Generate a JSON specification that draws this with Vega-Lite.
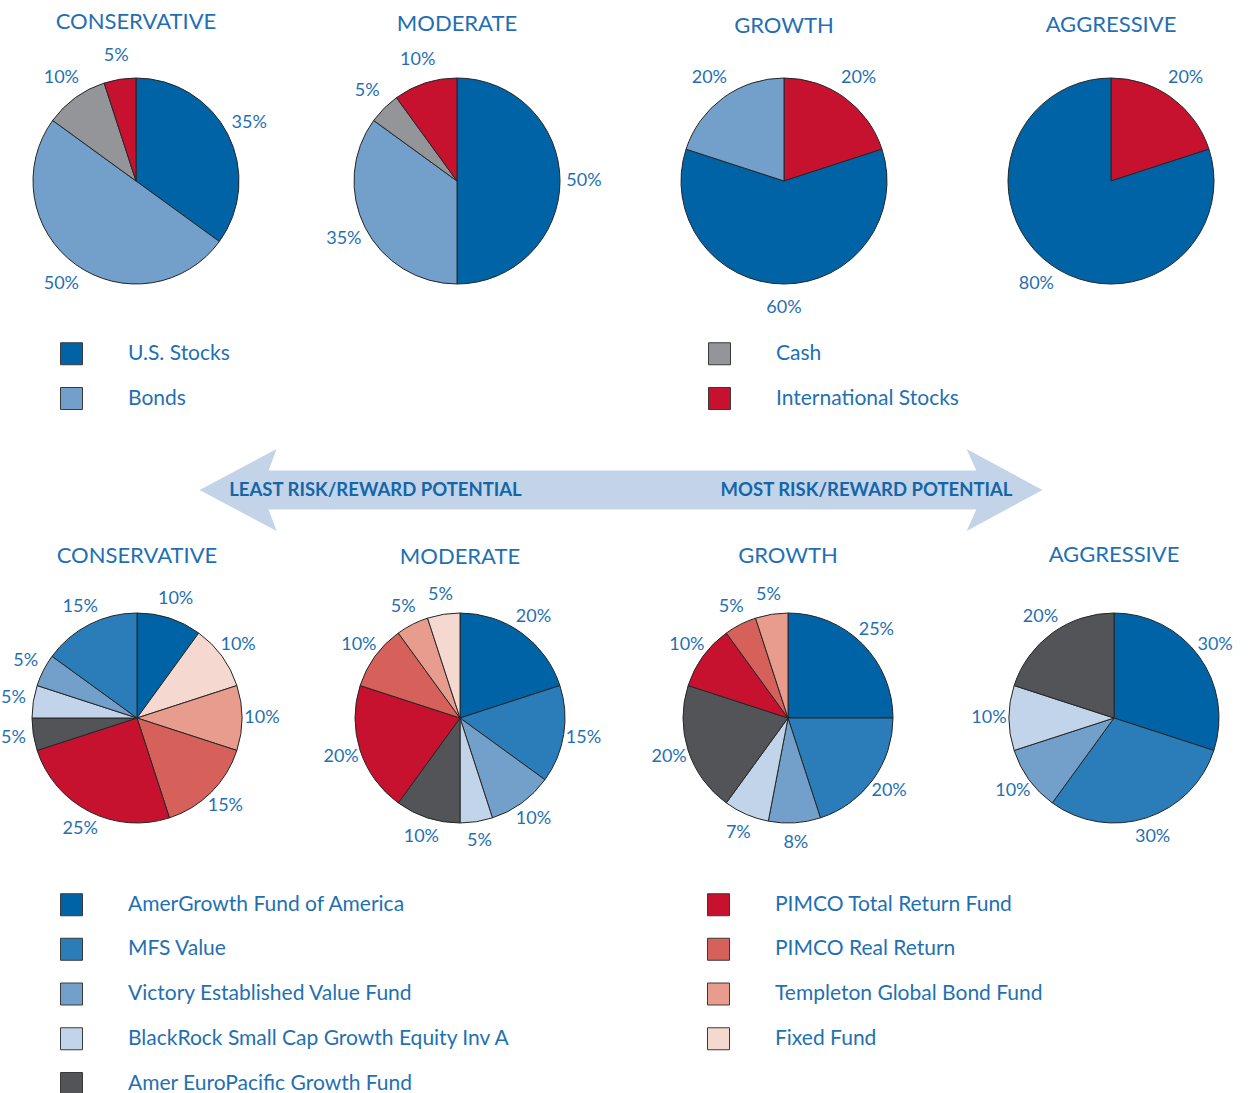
{
  "$schema": "https://vega.github.io/schema/vega-lite/v6.json",
  "padding": {"left": 1, "top": 11, "right": 0, "bottom": 0},
  "background": "white",
  "config": {
    "view": {"stroke": null},
    "font": "Lato",
    "title": {"font": "Lato", "fontSize": 22, "fontWeight": "normal", "color": "#1f70b3", "baseline": "alphabetic", "anchor": "middle"}
  },
  "datasets": {
    "top": [
      {"p": "CONSERVATIVE", "a": "U.S. Stocks", "v": 0.35, "k": 1},
      {"p": "CONSERVATIVE", "a": "Bonds", "v": 0.50, "k": 2},
      {"p": "CONSERVATIVE", "a": "Cash", "v": 0.10, "k": 3},
      {"p": "CONSERVATIVE", "a": "International Stocks", "v": 0.05, "k": 4},
      {"p": "MODERATE", "a": "U.S. Stocks", "v": 0.50, "k": 1},
      {"p": "MODERATE", "a": "Bonds", "v": 0.35, "k": 2},
      {"p": "MODERATE", "a": "Cash", "v": 0.05, "k": 3},
      {"p": "MODERATE", "a": "International Stocks", "v": 0.10, "k": 4},
      {"p": "GROWTH", "a": "International Stocks", "v": 0.20, "k": 1},
      {"p": "GROWTH", "a": "U.S. Stocks", "v": 0.60, "k": 2},
      {"p": "GROWTH", "a": "Bonds", "v": 0.20, "k": 3},
      {"p": "AGGRESSIVE", "a": "International Stocks", "v": 0.20, "k": 1},
      {"p": "AGGRESSIVE", "a": "U.S. Stocks", "v": 0.80, "k": 2}
    ],
    "bottom": [
      {"p": "CONSERVATIVE", "a": "AmerGrowth Fund of America", "v": 0.10, "k": 1},
      {"p": "CONSERVATIVE", "a": "Fixed Fund", "v": 0.10, "k": 2},
      {"p": "CONSERVATIVE", "a": "Templeton Global Bond Fund", "v": 0.10, "k": 3},
      {"p": "CONSERVATIVE", "a": "PIMCO Real Return", "v": 0.15, "k": 4},
      {"p": "CONSERVATIVE", "a": "PIMCO Total Return Fund", "v": 0.25, "k": 5},
      {"p": "CONSERVATIVE", "a": "Amer EuroPacific Growth Fund", "v": 0.05, "k": 6},
      {"p": "CONSERVATIVE", "a": "BlackRock Small Cap Growth Equity Inv A", "v": 0.05, "k": 7},
      {"p": "CONSERVATIVE", "a": "Victory Established Value Fund", "v": 0.05, "k": 8},
      {"p": "CONSERVATIVE", "a": "MFS Value", "v": 0.15, "k": 9},
      {"p": "MODERATE", "a": "AmerGrowth Fund of America", "v": 0.20, "k": 1},
      {"p": "MODERATE", "a": "MFS Value", "v": 0.15, "k": 2},
      {"p": "MODERATE", "a": "Victory Established Value Fund", "v": 0.10, "k": 3},
      {"p": "MODERATE", "a": "BlackRock Small Cap Growth Equity Inv A", "v": 0.05, "k": 4},
      {"p": "MODERATE", "a": "Amer EuroPacific Growth Fund", "v": 0.10, "k": 5},
      {"p": "MODERATE", "a": "PIMCO Total Return Fund", "v": 0.20, "k": 6},
      {"p": "MODERATE", "a": "PIMCO Real Return", "v": 0.10, "k": 7},
      {"p": "MODERATE", "a": "Templeton Global Bond Fund", "v": 0.05, "k": 8},
      {"p": "MODERATE", "a": "Fixed Fund", "v": 0.05, "k": 9},
      {"p": "GROWTH", "a": "AmerGrowth Fund of America", "v": 0.25, "k": 1},
      {"p": "GROWTH", "a": "MFS Value", "v": 0.20, "k": 2},
      {"p": "GROWTH", "a": "Victory Established Value Fund", "v": 0.08, "k": 3},
      {"p": "GROWTH", "a": "BlackRock Small Cap Growth Equity Inv A", "v": 0.07, "k": 4},
      {"p": "GROWTH", "a": "Amer EuroPacific Growth Fund", "v": 0.20, "k": 5},
      {"p": "GROWTH", "a": "PIMCO Total Return Fund", "v": 0.10, "k": 6},
      {"p": "GROWTH", "a": "PIMCO Real Return", "v": 0.05, "k": 7},
      {"p": "GROWTH", "a": "Templeton Global Bond Fund", "v": 0.05, "k": 8},
      {"p": "AGGRESSIVE", "a": "AmerGrowth Fund of America", "v": 0.30, "k": 1},
      {"p": "AGGRESSIVE", "a": "MFS Value", "v": 0.30, "k": 2},
      {"p": "AGGRESSIVE", "a": "Victory Established Value Fund", "v": 0.10, "k": 3},
      {"p": "AGGRESSIVE", "a": "BlackRock Small Cap Growth Equity Inv A", "v": 0.10, "k": 4},
      {"p": "AGGRESSIVE", "a": "Amer EuroPacific Growth Fund", "v": 0.20, "k": 5}
    ]
  },
  "resolve": {"scale": {"color": "independent"}, "legend": {"color": "independent"}},
  "spacing": 0,
  "vconcat": [
    {
      "bounds": "flush",
      "spacing": 65,
      "hconcat": [
        {
          "width": 260, "height": 280,
          "title": {"text": "CONSERVATIVE", "offset": 7},
          "data": {"name": "top"},
          "transform": [{"filter": {"field": "p", "equal": "CONSERVATIVE"}}],
          "encoding": {"theta": {"field": "v", "type": "quantitative", "stack": true}, "order": {"field": "k", "type": "quantitative"}},
          "layer": [
            {"mark": {"type": "arc", "outerRadius": 103, "stroke": "#262626", "strokeWidth": 1},
             "encoding": {"color": {"field": "a", "type": "nominal",
               "scale": {"domain": ["U.S. Stocks", "Bonds", "Cash", "International Stocks"], "range": ["#0063a6", "#72a0cb", "#939598", "#c6112f"]},
               "legend": {"orient": "none", "legendX": 30, "legendY": 277, "padding": 24, "columns": 2, "columnPadding": 476, "rowPadding": 18, "symbolType": "square", "symbolSize": 484, "symbolStrokeColor": "#3a3a3a", "symbolStrokeWidth": 1, "symbolOpacity": 1, "labelOffset": 45, "labelFont": "Lato", "labelFontSize": 21, "labelColor": "#1f70b3", "labelLimit": 600, "title": null}}}},
            {"mark": {"type": "text", "radius": 127, "font": "Lato", "fontSize": 18, "fill": "#1f70b3"},
             "encoding": {"detail": {"field": "a", "type": "nominal"}, "text": {"field": "v", "type": "quantitative", "format": ".0%"}}}
          ]
        },
        {
          "width": 252, "height": 280,
          "title": {"text": "MODERATE", "offset": 5},
          "data": {"name": "top"},
          "transform": [{"filter": {"field": "p", "equal": "MODERATE"}}],
          "encoding": {"theta": {"field": "v", "type": "quantitative", "stack": true}, "order": {"field": "k", "type": "quantitative"}},
          "layer": [
            {"mark": {"type": "arc", "outerRadius": 103, "stroke": "#262626", "strokeWidth": 1},
             "encoding": {"color": {"field": "a", "type": "nominal",
               "scale": {"domain": ["U.S. Stocks", "Bonds", "Cash", "International Stocks"], "range": ["#0063a6", "#72a0cb", "#939598", "#c6112f"]},
               "legend": {"orient": "none", "legendX": 30, "legendY": 277, "padding": 24, "columns": 2, "columnPadding": 476, "rowPadding": 18, "symbolType": "square", "symbolSize": 484, "symbolStrokeColor": "#3a3a3a", "symbolStrokeWidth": 1, "symbolOpacity": 1, "labelOffset": 45, "labelFont": "Lato", "labelFontSize": 21, "labelColor": "#1f70b3", "labelLimit": 600, "title": null}}}},
            {"mark": {"type": "text", "radius": 127, "font": "Lato", "fontSize": 18, "fill": "#1f70b3"},
             "encoding": {"detail": {"field": "a", "type": "nominal"}, "text": {"field": "v", "type": "quantitative", "format": ".0%"}}}
          ]
        },
        {
          "width": 272, "height": 280,
          "title": {"text": "GROWTH", "offset": 3},
          "data": {"name": "top"},
          "transform": [{"filter": {"field": "p", "equal": "GROWTH"}}],
          "encoding": {"theta": {"field": "v", "type": "quantitative", "stack": true}, "order": {"field": "k", "type": "quantitative"}},
          "layer": [
            {"mark": {"type": "arc", "outerRadius": 103, "stroke": "#262626", "strokeWidth": 1},
             "encoding": {"color": {"field": "a", "type": "nominal",
               "scale": {"domain": ["U.S. Stocks", "Bonds", "Cash", "International Stocks"], "range": ["#0063a6", "#72a0cb", "#939598", "#c6112f"]},
               "legend": {"orient": "none", "legendX": 30, "legendY": 277, "padding": 24, "columns": 2, "columnPadding": 476, "rowPadding": 18, "symbolType": "square", "symbolSize": 484, "symbolStrokeColor": "#3a3a3a", "symbolStrokeWidth": 1, "symbolOpacity": 1, "labelOffset": 45, "labelFont": "Lato", "labelFontSize": 21, "labelColor": "#1f70b3", "labelLimit": 600, "title": null}}}},
            {"mark": {"type": "text", "radius": 127, "font": "Lato", "fontSize": 18, "fill": "#1f70b3"},
             "encoding": {"detail": {"field": "a", "type": "nominal"}, "text": {"field": "v", "type": "quantitative", "format": ".0%"}}}
          ]
        },
        {
          "width": 252, "height": 280,
          "title": {"text": "AGGRESSIVE", "offset": 4},
          "data": {"name": "top"},
          "transform": [{"filter": {"field": "p", "equal": "AGGRESSIVE"}}],
          "encoding": {"theta": {"field": "v", "type": "quantitative", "stack": true}, "order": {"field": "k", "type": "quantitative"}},
          "layer": [
            {"mark": {"type": "arc", "outerRadius": 103, "stroke": "#262626", "strokeWidth": 1},
             "encoding": {"color": {"field": "a", "type": "nominal",
               "scale": {"domain": ["U.S. Stocks", "Bonds", "Cash", "International Stocks"], "range": ["#0063a6", "#72a0cb", "#939598", "#c6112f"]},
               "legend": {"orient": "none", "legendX": 30, "legendY": 277, "padding": 24, "columns": 2, "columnPadding": 476, "rowPadding": 18, "symbolType": "square", "symbolSize": 484, "symbolStrokeColor": "#3a3a3a", "symbolStrokeWidth": 1, "symbolOpacity": 1, "labelOffset": 45, "labelFont": "Lato", "labelFontSize": 21, "labelColor": "#1f70b3", "labelLimit": 600, "title": null}}}},
            {"mark": {"type": "text", "radius": 127, "font": "Lato", "fontSize": 18, "fill": "#1f70b3"},
             "encoding": {"detail": {"field": "a", "type": "nominal"}, "text": {"field": "v", "type": "quantitative", "format": ".0%"}}}
          ]
        }
      ]
    },
    {
      "width": 1230, "height": 108,
      "layer": [
        {
          "data": {"values": [{"band": "risk/reward"}]},
          "mark": {"type": "point", "shape": "M-1,0L-0.817,-0.0973L-0.836,-0.0463L0.843,-0.0463L0.82,-0.0973L1,0L0.82,0.0973L0.843,0.0463L-0.836,0.0463L-0.817,0.0973Z", "size": 710649, "filled": true, "fill": "#c3d4e9", "opacity": 1, "strokeWidth": 0},
          "encoding": {}
        },
        {
          "data": {"values": [{"side": "LEAST RISK/REWARD POTENTIAL"}, {"side": "MOST RISK/REWARD POTENTIAL"}]},
          "mark": {"type": "text", "font": "Lato", "fontWeight": "bold", "fontSize": 18.5, "fill": "#1466a9"},
          "encoding": {
            "x": {"field": "side", "type": "nominal", "scale": {"type": "point", "padding": 0.7525}, "axis": null},
            "text": {"field": "side", "type": "nominal"}
          }
        }
      ]
    },
    {
      "bounds": "flush",
      "spacing": 65,
      "hconcat": [
        {
          "width": 262, "height": 280,
          "title": {"text": "CONSERVATIVE", "offset": 10},
          "data": {"name": "bottom"},
          "transform": [{"filter": {"field": "p", "equal": "CONSERVATIVE"}}],
          "encoding": {"theta": {"field": "v", "type": "quantitative", "stack": true}, "order": {"field": "k", "type": "quantitative"}},
          "layer": [
            {"mark": {"type": "arc", "outerRadius": 105, "stroke": "#262626", "strokeWidth": 1},
             "encoding": {"color": {"field": "a", "type": "nominal",
               "scale": {"domain": ["AmerGrowth Fund of America", "MFS Value", "Victory Established Value Fund", "BlackRock Small Cap Growth Equity Inv A", "Amer EuroPacific Growth Fund", "PIMCO Total Return Fund", "PIMCO Real Return", "Templeton Global Bond Fund", "Fixed Fund"],
                         "range": ["#0063a6", "#2a7db8", "#72a0cb", "#c2d4ea", "#525457", "#c6112f", "#d6605a", "#e79c8d", "#f5d8cf"]},
               "legend": {"orient": "none", "legendX": 54, "legendY": 315, "columns": 2, "columnPadding": 194, "rowPadding": 17.75, "symbolType": "square", "symbolSize": 484, "symbolStrokeColor": "#3a3a3a", "symbolStrokeWidth": 1, "symbolOpacity": 1, "labelOffset": 45, "labelFont": "Lato", "labelFontSize": 21, "labelColor": "#1f70b3", "labelLimit": 600, "title": null}}}},
            {"mark": {"type": "text", "radius": 125, "font": "Lato", "fontSize": 18, "fill": "#1f70b3"},
             "encoding": {"detail": {"field": "a", "type": "nominal"}, "text": {"field": "v", "type": "quantitative", "format": ".0%"}}}
          ]
        },
        {
          "width": 254, "height": 280,
          "title": {"text": "MODERATE", "offset": 9},
          "data": {"name": "bottom"},
          "transform": [{"filter": {"field": "p", "equal": "MODERATE"}}],
          "encoding": {"theta": {"field": "v", "type": "quantitative", "stack": true}, "order": {"field": "k", "type": "quantitative"}},
          "layer": [
            {"mark": {"type": "arc", "outerRadius": 105, "stroke": "#262626", "strokeWidth": 1},
             "encoding": {"color": {"field": "a", "type": "nominal",
               "scale": {"domain": ["AmerGrowth Fund of America", "MFS Value", "Victory Established Value Fund", "BlackRock Small Cap Growth Equity Inv A", "Amer EuroPacific Growth Fund", "PIMCO Total Return Fund", "PIMCO Real Return", "Templeton Global Bond Fund", "Fixed Fund"],
                         "range": ["#0063a6", "#2a7db8", "#72a0cb", "#c2d4ea", "#525457", "#c6112f", "#d6605a", "#e79c8d", "#f5d8cf"]},
               "legend": {"orient": "none", "legendX": 54, "legendY": 315, "columns": 2, "columnPadding": 194, "rowPadding": 17.75, "symbolType": "square", "symbolSize": 484, "symbolStrokeColor": "#3a3a3a", "symbolStrokeWidth": 1, "symbolOpacity": 1, "labelOffset": 45, "labelFont": "Lato", "labelFontSize": 21, "labelColor": "#1f70b3", "labelLimit": 600, "title": null}}}},
            {"mark": {"type": "text", "radius": 125, "font": "Lato", "fontSize": 18, "fill": "#1f70b3"},
             "encoding": {"detail": {"field": "a", "type": "nominal"}, "text": {"field": "v", "type": "quantitative", "format": ".0%"}}}
          ]
        },
        {
          "width": 272, "height": 280,
          "title": {"text": "GROWTH", "offset": 10},
          "data": {"name": "bottom"},
          "transform": [{"filter": {"field": "p", "equal": "GROWTH"}}],
          "encoding": {"theta": {"field": "v", "type": "quantitative", "stack": true}, "order": {"field": "k", "type": "quantitative"}},
          "layer": [
            {"mark": {"type": "arc", "outerRadius": 105, "stroke": "#262626", "strokeWidth": 1},
             "encoding": {"color": {"field": "a", "type": "nominal",
               "scale": {"domain": ["AmerGrowth Fund of America", "MFS Value", "Victory Established Value Fund", "BlackRock Small Cap Growth Equity Inv A", "Amer EuroPacific Growth Fund", "PIMCO Total Return Fund", "PIMCO Real Return", "Templeton Global Bond Fund", "Fixed Fund"],
                         "range": ["#0063a6", "#2a7db8", "#72a0cb", "#c2d4ea", "#525457", "#c6112f", "#d6605a", "#e79c8d", "#f5d8cf"]},
               "legend": {"orient": "none", "legendX": 54, "legendY": 315, "columns": 2, "columnPadding": 194, "rowPadding": 17.75, "symbolType": "square", "symbolSize": 484, "symbolStrokeColor": "#3a3a3a", "symbolStrokeWidth": 1, "symbolOpacity": 1, "labelOffset": 45, "labelFont": "Lato", "labelFontSize": 21, "labelColor": "#1f70b3", "labelLimit": 600, "title": null}}}},
            {"mark": {"type": "text", "radius": 125, "font": "Lato", "fontSize": 18, "fill": "#1f70b3"},
             "encoding": {"detail": {"field": "a", "type": "nominal"}, "text": {"field": "v", "type": "quantitative", "format": ".0%"}}}
          ]
        },
        {
          "width": 250, "height": 280,
          "title": {"text": "AGGRESSIVE", "offset": 11},
          "data": {"name": "bottom"},
          "transform": [{"filter": {"field": "p", "equal": "AGGRESSIVE"}}],
          "encoding": {"theta": {"field": "v", "type": "quantitative", "stack": true}, "order": {"field": "k", "type": "quantitative"}},
          "layer": [
            {"mark": {"type": "arc", "outerRadius": 105, "stroke": "#262626", "strokeWidth": 1},
             "encoding": {"color": {"field": "a", "type": "nominal",
               "scale": {"domain": ["AmerGrowth Fund of America", "MFS Value", "Victory Established Value Fund", "BlackRock Small Cap Growth Equity Inv A", "Amer EuroPacific Growth Fund", "PIMCO Total Return Fund", "PIMCO Real Return", "Templeton Global Bond Fund", "Fixed Fund"],
                         "range": ["#0063a6", "#2a7db8", "#72a0cb", "#c2d4ea", "#525457", "#c6112f", "#d6605a", "#e79c8d", "#f5d8cf"]},
               "legend": {"orient": "none", "legendX": 54, "legendY": 315, "columns": 2, "columnPadding": 194, "rowPadding": 17.75, "symbolType": "square", "symbolSize": 484, "symbolStrokeColor": "#3a3a3a", "symbolStrokeWidth": 1, "symbolOpacity": 1, "labelOffset": 45, "labelFont": "Lato", "labelFontSize": 21, "labelColor": "#1f70b3", "labelLimit": 600, "title": null}}}},
            {"mark": {"type": "text", "radius": 125, "font": "Lato", "fontSize": 18, "fill": "#1f70b3"},
             "encoding": {"detail": {"field": "a", "type": "nominal"}, "text": {"field": "v", "type": "quantitative", "format": ".0%"}}}
          ]
        }
      ]
    }
  ]
}
